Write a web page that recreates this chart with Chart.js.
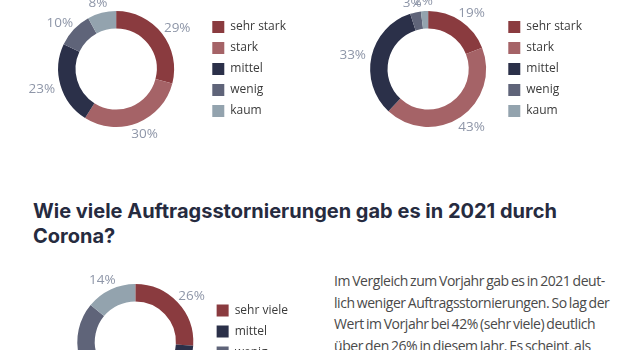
<!DOCTYPE html>
<html lang="de">
<head>
<meta charset="utf-8">
<script src="https://cdn.jsdelivr.net/npm/chart.js@4.4.0/dist/chart.umd.min.js"></script>
<style>
  html, body { margin: 0; padding: 0; background: #fff; overflow: hidden; width: 630px; height: 350px; }
  canvas { position: absolute; }
  h2 {
    position: absolute; left: 33px; top: 199px; width: 560px; margin: 0;
    font-family: Inter, "Open Sans", sans-serif; font-weight: 700; font-size: 20px;
    line-height: 25px; color: #262b3f;
  }
  .text {
    position: absolute; left: 334px; top: 270px; margin: 0;
    font-family: "Open Sans", sans-serif; font-size: 14px; line-height: 21.7px;
    color: #4a4a4a; white-space: nowrap; letter-spacing: -0.45px; word-spacing: -1px;
  }
</style>
</head>
<body>
<canvas id="chart-2020" width="296" height="175" style="left:0px;top:-20px"></canvas>
<canvas id="chart-2021" width="262" height="175" style="left:330px;top:-20px"></canvas>
<h2>Wie viele Auftragsstornierungen gab es in 2021 durch Corona?</h2>
<canvas id="chart-storno" width="298" height="190" style="left:0px;top:240px"></canvas>
<p class="text">Im Vergleich zum Vorjahr gab es in 2021 deut-<br>lich weniger Auftragsstornierungen. So lag der<br>Wert im Vorjahr bei 42% (sehr viele) deutlich<br>über den 26% in diesem Jahr. Es scheint, als</p>

<script>
const palette = {
  darkRed: "#8a3b3f",
  rose: "#a56367",
  navy: "#2b3049",
  slate: "#5f6479",
  grey: "#93a3ae",
  label: "#8e96a8",
  legend: "#3a3a3a"
};

const impactLabels = ["sehr stark", "stark", "mittel", "wenig", "kaum"];
const impact2020 = [29, 30, 23, 10, 8];
const impact2021 = [19, 43, 33, 3, 2];
const impactColors = [palette.darkRed, palette.rose, palette.navy, palette.slate, palette.grey];

const stornoLabels = ["sehr viele", "mittel", "wenig", "kaum"];
const stornoValues = [26, 30, 30, 14];
const stornoColors = [palette.darkRed, palette.navy, palette.slate, palette.grey];

// percentages outside the ring
const outsideLabels = {
  id: "outsideLabels",
  afterDatasetsDraw(chart) {
    const { ctx } = chart;
    const meta = chart.getDatasetMeta(0);
    const values = chart.data.datasets[0].data;
    ctx.save();
    ctx.font = '13.5px "Open Sans"';
    ctx.fillStyle = palette.label;
    ctx.textAlign = "center";
    ctx.textBaseline = "middle";
    meta.data.forEach((arc, i) => {
      const { x, y, startAngle, endAngle, outerRadius } =
        arc.getProps(["x", "y", "startAngle", "endAngle", "outerRadius"], true);
      const mid = (startAngle + endAngle) / 2;
      const text = `${values[i]}%`;
      const w = ctx.measureText(text).width;
      const r = outerRadius + 6;
      const cx = x + Math.cos(mid) * r + Math.cos(mid) * w / 2;
      const cy = y + Math.sin(mid) * r + Math.sin(mid) * 5 + 1;
      ctx.fillText(text, cx, cy);
    });
    ctx.restore();
  }
};

function renderDonut(id, labels, values, colors, padding) {
  new Chart(document.getElementById(id), {
    type: "doughnut",
    data: {
      labels,
      datasets: [{
        data: values,
        backgroundColor: colors,
        borderWidth: 0,
        hoverOffset: 0
      }]
    },
    options: {
      responsive: false,
      animation: false,
      cutout: "70%",
      layout: { padding, autoPadding: false },
      plugins: {
        tooltip: { enabled: false },
        legend: {
          position: "right",
          align: "center",
          labels: {
            boxWidth: 12,
            boxHeight: 12,
            padding: 9,
            color: palette.legend,
            font: { family: "'Open Sans'", size: 12 }
          }
        }
      }
    },
    plugins: [outsideLabels]
  });
}

renderDonut("chart-2020", impactLabels, impact2020, impactColors, { left: 29, top: 31, right: 0, bottom: 28 });
renderDonut("chart-2021", impactLabels, impact2021, impactColors, { left: 27, top: 31, right: 0, bottom: 28 });
renderDonut("chart-storno", stornoLabels, stornoValues, stornoColors, { left: 63, top: 44, right: 0, bottom: 30 });
</script>
</body>
</html>
